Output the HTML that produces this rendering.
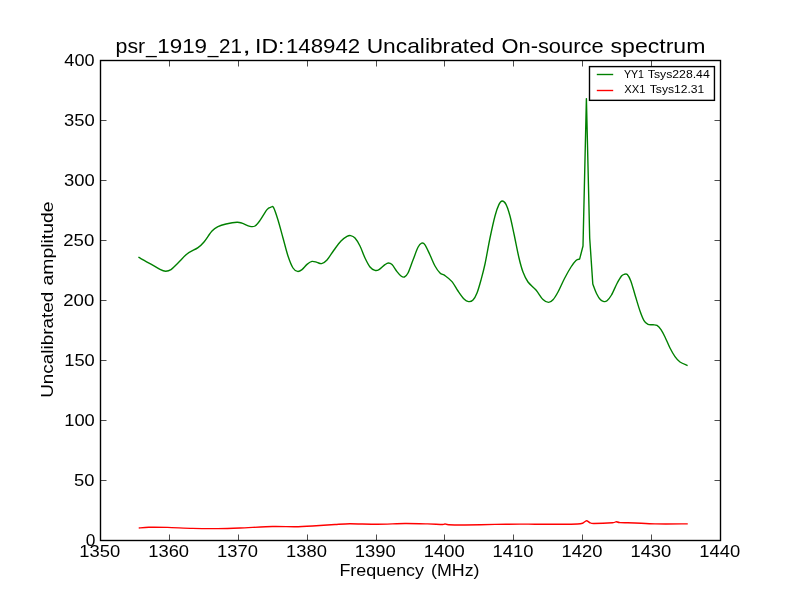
<!DOCTYPE html>
<html><head><meta charset="utf-8"><title>psr_1919_21 spectrum</title>
<style>
html,body{margin:0;padding:0;background:#fff;}
body{width:800px;height:600px;overflow:hidden;}
svg{display:block;}
text{font-family:"Liberation Sans",sans-serif;fill:#000;}
#labels{will-change:transform;}
</style></head><body>
<svg width="800" height="600" viewBox="0 0 800 600">
<rect x="0" y="0" width="800" height="600" fill="#ffffff"/>
<path d="M138.40 257.20C140.33 258.27 146.40 261.57 150.00 263.60C153.60 265.63 157.40 268.13 160.00 269.40C162.60 270.67 163.77 271.17 165.60 271.20C167.43 271.23 168.93 270.97 171.00 269.60C173.07 268.23 175.33 265.60 178.00 263.00C180.67 260.40 183.67 256.57 187.00 254.00C190.33 251.43 195.17 249.60 198.00 247.60C200.83 245.60 201.67 244.77 204.00 242.00C206.33 239.23 209.67 233.57 212.00 231.00C214.33 228.43 215.67 227.77 218.00 226.60C220.33 225.43 222.83 224.73 226.00 224.00C229.17 223.27 234.33 222.33 237.00 222.20C239.67 222.07 239.83 222.50 242.00 223.20C244.17 223.90 247.83 225.93 250.00 226.40C252.17 226.87 253.33 227.00 255.00 226.00C256.67 225.00 258.00 223.13 260.00 220.40C262.00 217.67 265.17 211.80 267.00 209.60C268.83 207.40 269.90 207.53 271.00 207.20C272.10 206.87 272.43 205.47 273.60 207.60C274.77 209.73 276.43 214.93 278.00 220.00C279.57 225.07 281.33 232.00 283.00 238.00C284.67 244.00 286.33 251.00 288.00 256.00C289.67 261.00 291.40 265.43 293.00 268.00C294.60 270.57 296.10 271.13 297.60 271.40C299.10 271.67 300.43 270.77 302.00 269.60C303.57 268.43 305.33 265.77 307.00 264.40C308.67 263.03 310.33 261.73 312.00 261.40C313.67 261.07 315.40 262.03 317.00 262.40C318.60 262.77 319.93 264.00 321.60 263.60C323.27 263.20 324.93 262.27 327.00 260.00C329.07 257.73 331.67 253.17 334.00 250.00C336.33 246.83 338.83 243.27 341.00 241.00C343.17 238.73 345.40 237.30 347.00 236.40C348.60 235.50 349.27 235.33 350.60 235.60C351.93 235.87 353.43 236.27 355.00 238.00C356.57 239.73 358.33 242.67 360.00 246.00C361.67 249.33 363.33 254.50 365.00 258.00C366.67 261.50 368.33 264.93 370.00 267.00C371.67 269.07 373.50 269.97 375.00 270.40C376.50 270.83 377.33 270.57 379.00 269.60C380.67 268.63 383.43 265.70 385.00 264.60C386.57 263.50 387.23 263.00 388.40 263.00C389.57 263.00 390.57 263.17 392.00 264.60C393.43 266.03 395.50 269.70 397.00 271.60C398.50 273.50 399.77 275.10 401.00 276.00C402.23 276.90 403.23 277.50 404.40 277.00C405.57 276.50 406.57 275.83 408.00 273.00C409.43 270.17 411.33 264.28 413.00 260.00C414.67 255.72 416.57 250.10 418.00 247.30C419.43 244.50 420.43 243.62 421.60 243.20C422.77 242.78 423.60 242.83 425.00 244.80C426.40 246.77 428.33 251.47 430.00 255.00C431.67 258.53 433.33 263.00 435.00 266.00C436.67 269.00 438.33 271.40 440.00 273.00C441.67 274.60 443.00 274.17 445.00 275.60C447.00 277.03 449.83 279.03 452.00 281.60C454.17 284.17 456.00 288.10 458.00 291.00C460.00 293.90 462.23 297.23 464.00 299.00C465.77 300.77 467.10 301.43 468.60 301.60C470.10 301.77 471.60 301.43 473.00 300.00C474.40 298.57 475.67 296.33 477.00 293.00C478.33 289.67 479.67 284.83 481.00 280.00C482.33 275.17 483.50 271.00 485.00 264.00C486.50 257.00 488.33 246.00 490.00 238.00C491.67 230.00 493.50 221.60 495.00 216.00C496.50 210.40 497.80 206.90 499.00 204.40C500.20 201.90 501.03 201.00 502.20 201.00C503.37 201.00 504.70 201.90 506.00 204.40C507.30 206.90 508.67 211.07 510.00 216.00C511.33 220.93 512.50 227.00 514.00 234.00C515.50 241.00 517.50 251.67 519.00 258.00C520.50 264.33 521.50 268.00 523.00 272.00C524.50 276.00 525.83 279.00 528.00 282.00C530.17 285.00 533.50 287.07 536.00 290.00C538.50 292.93 540.90 297.53 543.00 299.60C545.10 301.67 546.93 302.37 548.60 302.40C550.27 302.43 551.43 301.53 553.00 299.80C554.57 298.07 556.08 295.55 558.00 292.00C559.92 288.45 562.33 282.67 564.50 278.50C566.67 274.33 569.08 270.02 571.00 267.00C572.92 263.98 574.57 261.70 576.00 260.40C577.43 259.10 579.00 259.40 579.60 259.20L583.00 246.00L586.40 98.60L589.70 238.00L592.80 284.00C593.42 285.58 595.22 290.87 596.50 293.50C597.78 296.13 599.25 298.45 600.50 299.80C601.75 301.15 602.92 301.45 604.00 301.60C605.08 301.75 605.75 301.80 607.00 300.70C608.25 299.60 609.83 297.87 611.50 295.00C613.17 292.13 615.33 286.67 617.00 283.50C618.67 280.33 620.25 277.53 621.50 276.00C622.75 274.47 623.53 274.53 624.50 274.30C625.47 274.07 626.25 273.48 627.30 274.60C628.35 275.72 629.43 277.35 630.80 281.00C632.17 284.65 633.97 291.50 635.50 296.50C637.03 301.50 638.58 306.98 640.00 311.00C641.42 315.02 642.67 318.37 644.00 320.60C645.33 322.83 646.50 323.70 648.00 324.40C649.50 325.10 651.50 324.63 653.00 324.80C654.50 324.97 655.67 324.60 657.00 325.40C658.33 326.20 659.67 327.67 661.00 329.60C662.33 331.53 663.50 333.93 665.00 337.00C666.50 340.07 668.33 344.73 670.00 348.00C671.67 351.27 673.33 354.27 675.00 356.60C676.67 358.93 677.90 360.50 680.00 362.00C682.10 363.50 686.33 365.00 687.60 365.60" fill="none" stroke="#008000" stroke-width="1.39" stroke-linejoin="round" stroke-linecap="butt"/>
<path d="M138.75 528.00C140.08 527.90 144.92 527.33 148.75 527.25C152.58 527.17 161.67 527.25 167.50 527.40C173.33 527.55 185.83 528.24 192.50 528.40C199.17 528.56 211.17 528.65 217.50 528.60C223.83 528.55 232.67 528.28 240.00 528.00C247.33 527.72 265.17 526.67 272.50 526.50C279.83 526.33 289.67 526.82 295.00 526.75C300.33 526.68 307.17 526.30 312.50 526.00C317.83 525.70 330.00 524.80 335.00 524.50C340.00 524.20 344.33 523.78 350.00 523.75C355.67 523.72 370.17 524.28 377.50 524.25C384.83 524.22 398.33 523.55 405.00 523.50C411.67 523.45 422.50 523.77 427.50 523.90C432.50 524.03 440.17 524.49 442.50 524.50C444.83 524.51 444.17 523.97 445.00 524.00C445.83 524.03 446.08 524.62 448.75 524.75C451.42 524.88 458.83 525.05 465.00 525.00C471.17 524.95 487.67 524.52 495.00 524.40C502.33 524.28 514.67 524.12 520.00 524.10C525.33 524.08 529.67 524.23 535.00 524.25C540.33 524.27 554.33 524.28 560.00 524.25C565.67 524.22 574.50 524.13 577.50 524.00C580.50 523.87 581.30 523.68 582.50 523.25C583.70 522.82 585.50 520.82 586.50 520.75C587.50 520.68 589.03 522.38 590.00 522.75C590.97 523.12 590.75 523.50 593.75 523.50C596.75 523.50 609.50 522.98 612.50 522.75C615.50 522.52 615.25 521.77 616.25 521.75C617.25 521.73 617.50 522.43 620.00 522.60C622.50 522.77 630.33 522.83 635.00 523.00C639.67 523.17 647.97 523.78 655.00 523.90C662.03 524.02 683.38 523.90 687.75 523.90" fill="none" stroke="#ff0000" stroke-width="1.39" stroke-linejoin="round" stroke-linecap="butt"/>
<rect x="100.5" y="60.5" width="620" height="480" fill="none" stroke="#000" stroke-width="1.39"/>
<path d="M100.50 540.50 v-6.00 M100.50 60.50 v6.00 M169.50 540.50 v-6.00 M169.50 60.50 v6.00 M238.50 540.50 v-6.00 M238.50 60.50 v6.00 M307.50 540.50 v-6.00 M307.50 60.50 v6.00 M376.50 540.50 v-6.00 M376.50 60.50 v6.00 M444.50 540.50 v-6.00 M444.50 60.50 v6.00 M513.50 540.50 v-6.00 M513.50 60.50 v6.00 M582.50 540.50 v-6.00 M582.50 60.50 v6.00 M651.50 540.50 v-6.00 M651.50 60.50 v6.00 M720.50 540.50 v-6.00 M720.50 60.50 v6.00 M100.50 540.50 h6.00 M720.50 540.50 h-6.00 M100.50 480.50 h6.00 M720.50 480.50 h-6.00 M100.50 420.50 h6.00 M720.50 420.50 h-6.00 M100.50 360.50 h6.00 M720.50 360.50 h-6.00 M100.50 300.50 h6.00 M720.50 300.50 h-6.00 M100.50 240.50 h6.00 M720.50 240.50 h-6.00 M100.50 180.50 h6.00 M720.50 180.50 h-6.00 M100.50 120.50 h6.00 M720.50 120.50 h-6.00 M100.50 60.50 h6.00 M720.50 60.50 h-6.00" fill="none" stroke="#000" stroke-width="0.7"/>
<rect x="589.5" y="66.6" width="124.95" height="33.75" fill="#fff" stroke="#000" stroke-width="1.39"/>
<path d="M596.8 74.5 H613.2" stroke="#008000" stroke-width="1.39"/>
<path d="M596.8 90.5 H613.2" stroke="#ff0000" stroke-width="1.39"/>
<g id="labels">
<text x="115.59" y="52.9" font-size="21.1" textLength="29.64" lengthAdjust="spacingAndGlyphs">psr</text>
<text x="146.11" y="52.9" font-size="21.1" textLength="10.65" lengthAdjust="spacingAndGlyphs">_</text>
<text x="157.28" y="52.9" font-size="20.7" textLength="49.81" lengthAdjust="spacingAndGlyphs">1919</text>
<text x="207.86" y="52.9" font-size="21.1" textLength="10.65" lengthAdjust="spacingAndGlyphs">_</text>
<text x="219.11" y="52.9" font-size="20.7" textLength="22.9" lengthAdjust="spacingAndGlyphs">21</text>
<text x="242.46" y="52.9" font-size="21.1" textLength="8.26" lengthAdjust="spacingAndGlyphs">,</text>
<text x="255.03" y="52.9" font-size="21.1" textLength="29.4" lengthAdjust="spacingAndGlyphs">ID:</text>
<text x="285.99" y="52.9" font-size="20.7" textLength="74.2" lengthAdjust="spacingAndGlyphs">148942</text>
<text x="366.67" y="52.9" font-size="21.1" textLength="127.87" lengthAdjust="spacingAndGlyphs">Uncalibrated</text>
<text x="501.46" y="52.9" font-size="21.1" textLength="102.11" lengthAdjust="spacingAndGlyphs">On-source</text>
<text x="610.55" y="52.9" font-size="21.1" textLength="94.85" lengthAdjust="spacingAndGlyphs">spectrum</text>
<text x="79.31" y="557.0" font-size="17.2" textLength="40.9" lengthAdjust="spacingAndGlyphs">1350</text>
<text x="148.2" y="557.0" font-size="17.2" textLength="40.9" lengthAdjust="spacingAndGlyphs">1360</text>
<text x="217.09" y="557.0" font-size="17.2" textLength="40.9" lengthAdjust="spacingAndGlyphs">1370</text>
<text x="285.98" y="557.0" font-size="17.2" textLength="40.9" lengthAdjust="spacingAndGlyphs">1380</text>
<text x="354.87" y="557.0" font-size="17.2" textLength="40.9" lengthAdjust="spacingAndGlyphs">1390</text>
<text x="423.75" y="557.0" font-size="17.2" textLength="40.9" lengthAdjust="spacingAndGlyphs">1400</text>
<text x="492.64" y="557.0" font-size="17.2" textLength="40.9" lengthAdjust="spacingAndGlyphs">1410</text>
<text x="561.53" y="557.0" font-size="17.2" textLength="40.9" lengthAdjust="spacingAndGlyphs">1420</text>
<text x="630.42" y="557.0" font-size="17.2" textLength="40.9" lengthAdjust="spacingAndGlyphs">1430</text>
<text x="699.31" y="557.0" font-size="17.2" textLength="40.9" lengthAdjust="spacingAndGlyphs">1440</text>
<text x="85.69" y="545.9" font-size="17.2" textLength="9.68" lengthAdjust="spacingAndGlyphs">0</text>
<text x="74.06" y="485.9" font-size="17.2" textLength="20.45" lengthAdjust="spacingAndGlyphs">50</text>
<text x="64.21" y="425.9" font-size="17.2" textLength="30.6" lengthAdjust="spacingAndGlyphs">100</text>
<text x="64.21" y="365.9" font-size="17.2" textLength="30.6" lengthAdjust="spacingAndGlyphs">150</text>
<text x="63.23" y="305.9" font-size="17.2" textLength="31.09" lengthAdjust="spacingAndGlyphs">200</text>
<text x="63.23" y="245.9" font-size="17.2" textLength="31.09" lengthAdjust="spacingAndGlyphs">250</text>
<text x="63.96" y="185.9" font-size="17.2" textLength="30.76" lengthAdjust="spacingAndGlyphs">300</text>
<text x="63.96" y="125.9" font-size="17.2" textLength="30.76" lengthAdjust="spacingAndGlyphs">350</text>
<text x="64.38" y="65.9" font-size="17.2" textLength="30.22" lengthAdjust="spacingAndGlyphs">400</text>
<text x="339.44" y="575.8" font-size="17.2" textLength="84.56" lengthAdjust="spacingAndGlyphs">Frequency</text>
<text x="431.06" y="575.8" font-size="17.2" textLength="48.5" lengthAdjust="spacingAndGlyphs">(MHz)</text>
<text transform="translate(53.2 0) rotate(-90)" x="-397.83" y="0" font-size="17.2" textLength="106.1" lengthAdjust="spacingAndGlyphs">Uncalibrated</text>
<text transform="translate(53.2 0) rotate(-90)" x="-285.49" y="0" font-size="17.2" textLength="83.94" lengthAdjust="spacingAndGlyphs">amplitude</text>
<text x="623.92" y="78.0" font-size="11.7" textLength="20.14" lengthAdjust="spacingAndGlyphs">YY1</text>
<text x="647.79" y="78.0" font-size="11.7" textLength="61.93" lengthAdjust="spacingAndGlyphs">Tsys228.44</text>
<text x="624.21" y="92.75" font-size="11.7" textLength="21.18" lengthAdjust="spacingAndGlyphs">XX1</text>
<text x="649.79" y="92.75" font-size="11.7" textLength="54.53" lengthAdjust="spacingAndGlyphs">Tsys12.31</text>
</g>
</svg>
</body></html>
